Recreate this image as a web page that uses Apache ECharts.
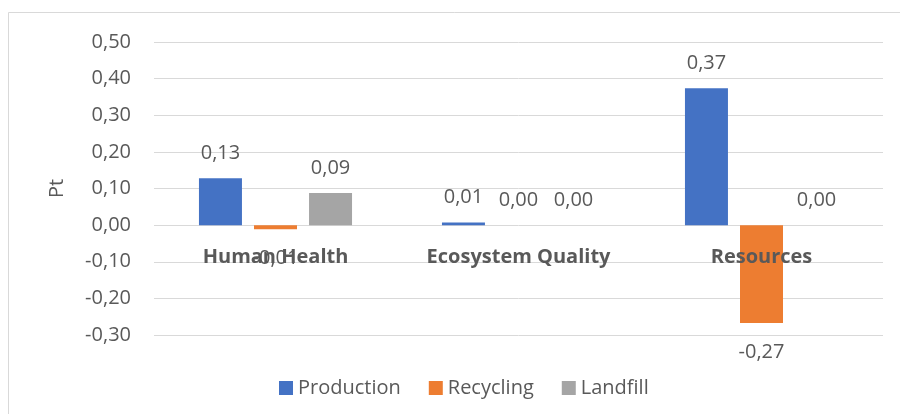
<!DOCTYPE html>
<html>
<head>
<meta charset="utf-8">
<script src="https://cdn.jsdelivr.net/npm/echarts@6/dist/echarts.min.js"></script>
<style>
  html, body { margin: 0; padding: 0; background: #fff; }
  #chart { width: 900px; height: 414px; }
</style>
</head>
<body>
<div id="chart"></div>
<script>
// Impact categories and single-score results (Pt) per life-cycle stage
const categories = ['Human Health', 'Ecosystem Quality', 'Resources'];
const production = [0.128, 0.007, 0.374];
const recycling = [-0.011, 0, -0.267];
const landfill = [0.088, 0, 0];
const seriesNames = ['Production', 'Recycling', 'Landfill'];
const seriesColors = ['#4472C4', '#ED7D31', '#A5A5A5'];
const yTicks = { min: -0.3, max: 0.5, step: 0.1 };

const FONT = '"Open Sans", "Liberation Sans", sans-serif';
const TEXT = '#595959';
const GRID = '#D9D9D9';

const GRID_TOP = 42, GRID_BOTTOM = 79, CHART_H = 414;
const plotH = CHART_H - GRID_TOP - GRID_BOTTOM;
// shift the category axis up so its labels sit just under the zero line
const zeroShift = plotH * (0 - yTicks.min) / (yTicks.max - yTicks.min);

const fmt = v => v.toFixed(2).replace('.', ',');

function barSeries(name, values, color) {
  return {
    name: name,
    type: 'bar',
    barWidth: 43,
    barGap: '28%',
    itemStyle: { color: color },
    data: values.map(v => ({
      value: v,
      label: v < 0 ? { position: 'bottom', distance: 18 } : { position: 'top', distance: 14 }
    })),
    label: {
      show: true,
      color: TEXT,
      fontFamily: FONT,
      fontSize: 20,
      lineHeight: 22,
      formatter: p => fmt(p.value)
    },
    z: 2
  };
}

const chart = echarts.init(document.getElementById('chart'), null, { renderer: 'canvas' });
chart.setOption({
  backgroundColor: '#fff',
  animation: false,
  graphic: [
    { type: 'line', shape: { x1: 8.5, y1: 12.5, x2: 900, y2: 12.5 }, style: { stroke: GRID, lineWidth: 1 } },
    { type: 'line', shape: { x1: 8.5, y1: 12.5, x2: 8.5, y2: 414 }, style: { stroke: GRID, lineWidth: 1 } }
  ],
  grid: { left: 154, right: 17, top: GRID_TOP, bottom: GRID_BOTTOM, containLabel: false },
  legend: {
    data: seriesNames,
    left: 274,
    top: 373,
    itemWidth: 14,
    itemHeight: 14,
    itemGap: 28,
    icon: 'rect',
    textStyle: { color: TEXT, fontFamily: FONT, fontSize: 20, padding: [0, 0, 0, 0] }
  },
  xAxis: {
    type: 'category',
    data: categories,
    z: 5,
    offset: -zeroShift,
    axisLine: { show: false },
    axisTick: { show: false },
    axisLabel: {
      margin: 22,
      color: TEXT,
      fontFamily: FONT,
      fontSize: 20,
      fontWeight: 'bold'
    }
  },
  yAxis: {
    type: 'value',
    min: yTicks.min,
    max: yTicks.max,
    interval: yTicks.step,
    name: 'Pt',
    nameLocation: 'middle',
    nameGap: 87,
    nameRotate: 90,
    nameTextStyle: { color: TEXT, fontFamily: FONT, fontSize: 20 },
    axisLine: { show: false },
    axisTick: { show: false },
    splitLine: { lineStyle: { color: GRID, width: 1 } },
    axisLabel: {
      margin: 23,
      color: TEXT,
      fontFamily: FONT,
      fontSize: 20,
      formatter: v => fmt(Math.round(v * 100) / 100)
    }
  },
  series: [
    barSeries(seriesNames[0], production, seriesColors[0]),
    barSeries(seriesNames[1], recycling, seriesColors[1]),
    barSeries(seriesNames[2], landfill, seriesColors[2])
  ]
});
</script>
</body>
</html>
